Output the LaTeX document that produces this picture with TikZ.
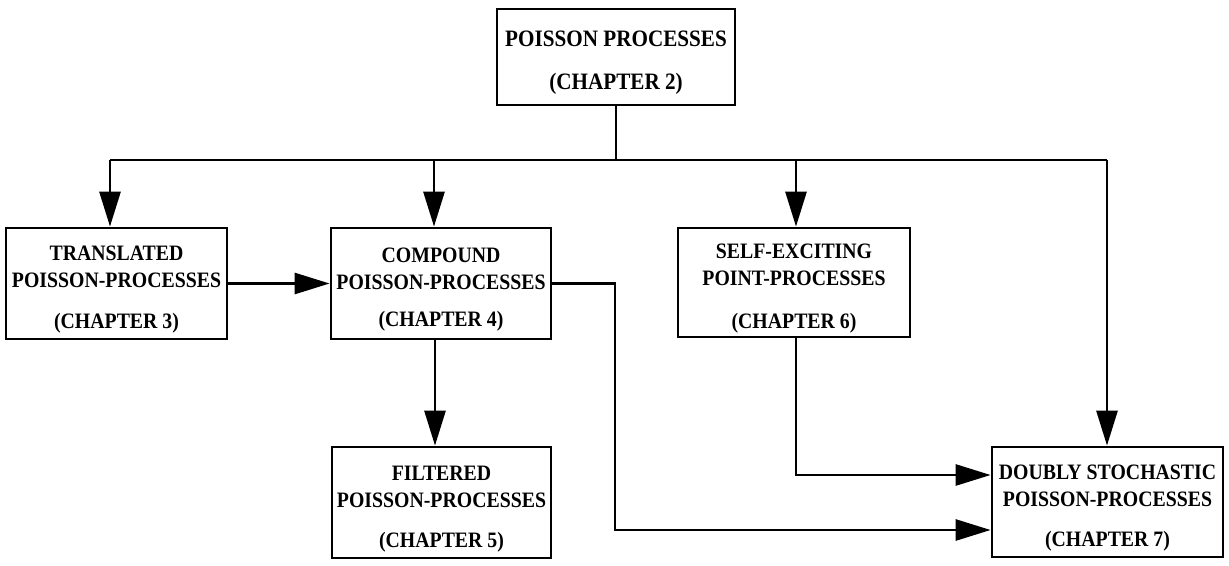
\documentclass[tikz,border=0pt]{standalone}
\usepackage{fontspec}
\setmainfont[FakeStretch=0.9]{Liberation Serif}
\usetikzlibrary{arrows.meta}
\newcommand{\lowerstrut}{\rule{0pt}{27pt}}
\begin{document}
\begin{tikzpicture}[x=1pt,y=-1pt,
  box/.style={draw, line width=2.8pt, rectangle, align=center, inner sep=0pt,
    font=\fontsize{22}{27}\selectfont\bfseries},
  ln/.style={line width=2.8pt},
  arr/.style={line width=2.8pt, -{Triangle[length=35pt,width=21pt]}}]
\useasboundingbox (0,0) rectangle (1229,565);
\node[box, minimum width=238pt, minimum height=96pt, font=\fontsize{23.5}{27}\selectfont\bfseries] (top) at (616,57)
  {\lowerstrut POISSON PROCESSES\\[16pt](CHAPTER 2)};
\node[box, minimum width=221pt, minimum height=111pt] (trans) at (116.5,283.5)
  {\lowerstrut TRANSLATED\\POISSON-PROCESSES\\[14pt](CHAPTER 3)};
\node[box, minimum width=220pt, minimum height=111pt] (comp) at (441,283.5)
  {\lowerstrut COMPOUND\\POISSON-PROCESSES\\[10pt](CHAPTER 4)};
\node[box, minimum width=232pt, minimum height=109pt] (self) at (794,282.5)
  {\lowerstrut SELF-EXCITING\\POINT-PROCESSES\\[16pt](CHAPTER 6)};
\node[box, minimum width=219pt, minimum height=111pt] (filt) at (441.5,502.5)
  {\lowerstrut FILTERED\\POISSON-PROCESSES\\[13pt](CHAPTER 5)};
\node[box, minimum width=231pt, minimum height=110pt] (doub) at (1107.5,502)
  {\lowerstrut DOUBLY STOCHASTIC\\POISSON-PROCESSES\\[13pt](CHAPTER 7)};
\coordinate (j) at (616,160);
\coordinate (jl) at (110,160);
\coordinate (jc) at (434,160);
\coordinate (js) at (796,160);
\coordinate (jr) at (1107,160);
\coordinate (k) at (615,530);
\coordinate (m) at (796,475);
\draw[ln] (top.south) -- (j);
\draw[ln] (jl) -- (jr);
\draw[arr] (jl) -- (jl |- trans.north);
\draw[arr] (jc) -- (jc |- comp.north);
\draw[arr] (js) -- (js |- self.north);
\draw[arr] (jr) -- (jr |- doub.north);
\draw[arr] (trans.east) -- (comp.west);
\draw[arr] ([xshift=-6pt]comp.south) -- ([xshift=-6pt]comp.south |- filt.north);
\draw[arr] (comp.east) -| (k) -- (k -| doub.west);
\draw[arr] (m |- self.south) -- (m) -- (m -| doub.west);
\end{tikzpicture}
\end{document}
